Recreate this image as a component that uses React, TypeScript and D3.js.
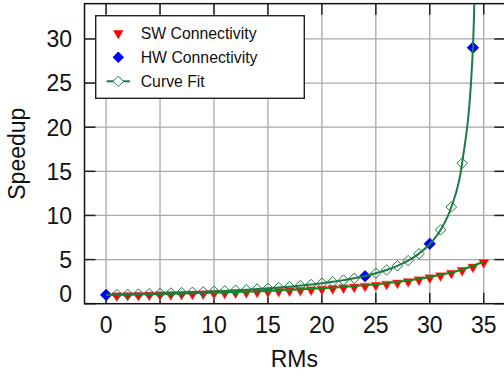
import React from "react";
import * as d3 from "d3";

// SW connectivity measurements (red triangles)
const swRMs = [1, 2, 3, 4, 5, 6, 7, 8, 9, 10, 11, 12, 13, 14, 15, 16, 17, 18, 19, 20, 21, 22, 23, 24, 25, 26, 27, 28, 29, 30, 31, 32, 33, 34, 35];
const swSpeedup = [1.0, 1.03, 1.05, 1.08, 1.1, 1.13, 1.16, 1.19, 1.22, 1.25, 1.28, 1.32, 1.36, 1.4, 1.45, 1.5, 1.55, 1.61, 1.67, 1.74, 1.81, 1.89, 1.98, 2.08, 2.19, 2.31, 2.45, 2.61, 2.8, 3.02, 3.27, 3.55, 3.87, 4.25, 4.75];

// smooth green line through the SW points
const swFitRMs = [0, 5, 10, 15, 20, 25, 30, 33, 35];
const swFitSpeedup = [1.0, 1.1, 1.25, 1.45, 1.74, 2.19, 3.02, 3.87, 4.75];

// HW connectivity measurements (blue diamonds)
const hwRMs = [0, 24, 30, 34];
const hwSpeedup = [1.0, 3.1, 6.8, 29.0];

// curve fit (open green diamonds + line)
const fitRMs = [0, 1, 2, 3, 4, 5, 6, 7, 8, 9, 10, 11, 12, 13, 14, 15, 16, 17, 18, 19, 20, 21, 22, 23, 24, 25, 26, 27, 28, 29, 30, 31, 32, 33, 34];
const fitSpeedup = [1.0, 1.03, 1.06, 1.09, 1.13, 1.17, 1.21, 1.25, 1.29, 1.34, 1.4, 1.45, 1.52, 1.58, 1.66, 1.74, 1.83, 1.93, 2.05, 2.17, 2.32, 2.48, 2.67, 2.88, 3.14, 3.45, 3.82, 4.29, 4.88, 5.67, 6.76, 8.36, 10.96, 15.92, 29.07];
// where the fit leaves the top of the plot
const fitTailRMs = [34.25];
const fitTailSpeedup = [40];

const xTicks = [0, 5, 10, 15, 20, 25, 30, 35];
const yTicks = [0, 5, 10, 15, 20, 25, 30];

const legendItems = ["SW Connectivity", "HW Connectivity", "Curve Fit"];

const W = 504;
const H = 376;
const FONT = "'Liberation Sans', Arial, Helvetica, sans-serif";
const FIT_GREEN = "#1b7a45";
const SW_GREEN = "#148a1e";

export default function App() {
  const x = d3.scaleLinear().domain([-2, 37]).range([84.5, 505.3]);
  const y = d3.scaleLinear().domain([0, 34]).range([303.7, 3.65]);
  const [x0, x1] = x.range();
  const [yb, yt] = y.range();

  const line = d3
    .line<[number, number]>()
    .x((d) => x(d[0]))
    .y((d) => y(d[1]))
    .curve(d3.curveMonotoneX);

  const fitPts: [number, number][] = fitRMs
    .map((r, i) => [r, fitSpeedup[i]] as [number, number])
    .concat(fitTailRMs.map((r, i) => [r, fitTailSpeedup[i]] as [number, number]));
  const swFitPts: [number, number][] = swFitRMs.map((r, i) => [r, swFitSpeedup[i]]);

  const tri = d3.symbol().type(d3.symbolTriangle).size(46)()!;
  const diamond = (s: number) => {
    const a = s / 2;
    return `M0,${-a}L${a},0L0,${a}L${-a},0Z`;
  };

  const tickLen = 11;

  return (
    <svg
      width={W}
      height={H}
      style={{ position: "absolute", left: 0, top: 0, background: "#fff", fontFamily: FONT }}
    >
      <defs>
        <clipPath id="plot">
          <rect x={x0} y={yt} width={x1 - x0} height={yb - yt} />
        </clipPath>
      </defs>
      <rect x={0} y={0} width={W} height={H} fill="#fff" />

      {/* grid */}
      {xTicks.map((t) => (
        <line key={"gx" + t} x1={x(t)} x2={x(t)} y1={yt} y2={yb} stroke="#a9a9a9" strokeWidth={1.3} />
      ))}
      {yTicks.filter((t) => t > 0).map((t) => (
        <line key={"gy" + t} x1={x0} x2={x1} y1={y(t)} y2={y(t)} stroke="#a9a9a9" strokeWidth={1.3} />
      ))}

      {/* ticks, inward on all sides */}
      {xTicks.map((t) => (
        <g key={"tx" + t} stroke="#222" strokeWidth={1.5}>
          <line x1={x(t)} x2={x(t)} y1={yb} y2={yb - tickLen} />
          <line x1={x(t)} x2={x(t)} y1={yt} y2={yt + tickLen} />
        </g>
      ))}
      {yTicks.map((t) => (
        <g key={"ty" + t} stroke="#222" strokeWidth={1.5}>
          <line x1={x0} x2={x0 + tickLen} y1={y(t)} y2={y(t)} />
          <line x1={x1} x2={x1 - tickLen} y1={y(t)} y2={y(t)} />
        </g>
      ))}

      {/* frame */}
      <rect x={x0} y={yt} width={x1 - x0} height={yb - yt} fill="none" stroke="#111" strokeWidth={1.5} />

      {/* tick labels */}
      {xTicks.map((t) => (
        <text key={"lx" + t} x={x(t)} y={333} textAnchor="middle" fontSize={23} fill="#111">
          {t}
        </text>
      ))}
      {yTicks.map((t) => (
        <text key={"ly" + t} x={72} y={Math.min(y(t), yb - 10) + 8.3} textAnchor="end" fontSize={23} fill="#111">
          {t}
        </text>
      ))}

      {/* axis titles */}
      <text x={(x0 + x1) / 2 - 0.5} y={367} textAnchor="middle" fontSize={23} fill="#111">
        RMs
      </text>
      <text
        transform={`translate(25,${(yt + yb) / 2}) rotate(-90)`}
        textAnchor="middle"
        fontSize={23}
        fill="#111"
      >
        Speedup
      </text>

      <g clipPath="url(#plot)">
        {/* SW points */}
        {swRMs.map((r, i) => (
          <path
            key={"sw" + r}
            d={tri}
            transform={`translate(${x(r)},${y(swSpeedup[i]) + 0.8}) rotate(180)`}
            fill="#ff0000"
            stroke="#ff6060"
            strokeWidth={0.5}
          />
        ))}
        {/* curve fit points */}
        {fitRMs.map((r, i) => (
          <path
            key={"fp" + r}
            d={diamond(10.5)}
            transform={`translate(${x(r)},${y(fitSpeedup[i])})`}
            fill="none"
            stroke={FIT_GREEN}
            strokeWidth={1}
          />
        ))}
        {/* HW points */}
        {hwRMs.map((r, i) => (
          <path
            key={"hw" + r}
            d={diamond(11.5)}
            transform={`translate(${x(r)},${y(hwSpeedup[i])})`}
            fill="#0000ff"
            stroke="#0000ff"
            strokeWidth={0.5}
          />
        ))}
        {/* lines */}
        <path d={line(swFitPts)!} fill="none" stroke={SW_GREEN} strokeWidth={2} />
        <path d={line(fitPts)!} fill="none" stroke={FIT_GREEN} strokeWidth={2} />
      </g>

      {/* legend */}
      <g>
        <rect x={95.7} y={15.7} width={208.6} height={82.6} fill="#fff" stroke="#222" strokeWidth={1.4} />
        {legendItems.map((label, i) => {
          const cy = 33.3 + i * 24;
          return (
            <g key={label}>
              {i === 0 && (
                <path d={tri} transform={`translate(118.3,${cy}) rotate(180)`} fill="#ff0000" />
              )}
              {i === 1 && <path d={diamond(11.5)} transform={`translate(118.3,${cy})`} fill="#0000ff" />}
              {i === 2 && (
                <>
                  <line x1={106.5} x2={130} y1={cy} y2={cy} stroke={FIT_GREEN} strokeWidth={2} />
                  <path d={diamond(10.5)} transform={`translate(118.3,${cy})`} fill="#fff" stroke={FIT_GREEN} strokeWidth={1} />
                </>
              )}
              <text x={140.7} y={cy + 5.8} fontSize={15.8} fill="#111">
                {label}
              </text>
            </g>
          );
        })}
      </g>
    </svg>
  );
}
